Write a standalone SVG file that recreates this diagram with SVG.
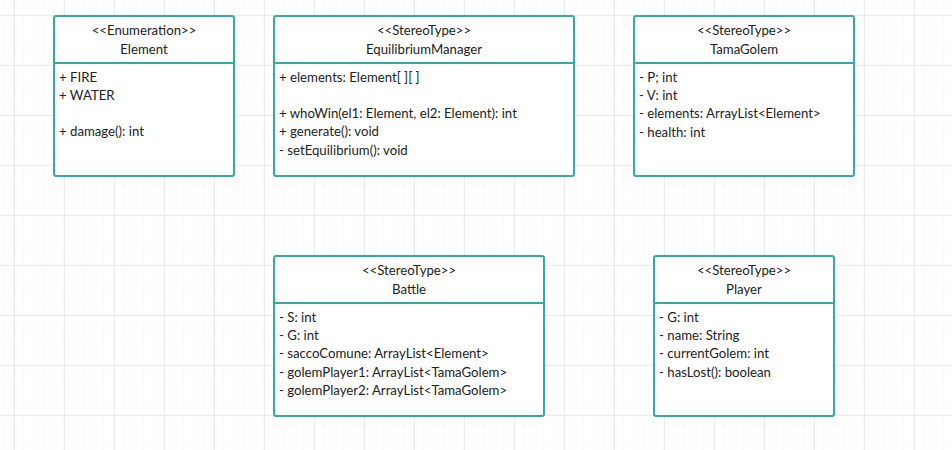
<svg xmlns="http://www.w3.org/2000/svg" width="952" height="450" viewBox="0 0 952 450">
<defs>
<pattern id="minor" x="4" y="5" width="10" height="10" patternUnits="userSpaceOnUse">
<path d="M10 0V10M0 10H10" fill="none" stroke="#f5f5f5" stroke-width="1"/>
</pattern>
<pattern id="major" x="14" y="15" width="50" height="50" patternUnits="userSpaceOnUse">
<path d="M0.5 0V50M0 0.5H50" fill="none" stroke="#ebebeb" stroke-width="1"/>
</pattern>
</defs>
<style>
.box{fill:#ffffff;stroke:#36a9a4;stroke-width:2}
.sep{stroke:#36a9a4;stroke-width:2}
text{font-family:Lato,"Open Sans","Liberation Sans",sans-serif;font-size:13.2px;fill:#222222}
.c{text-anchor:middle}
</style>
<rect width="952" height="450" fill="#ffffff"/>
<rect width="952" height="450" fill="url(#minor)"/>
<rect width="952" height="450" fill="url(#major)"/>
<g id="connectors"/>
<g id="Element">
<rect class="box" x="54" y="16" width="180" height="160" rx="2"/>
<line class="sep" x1="54" y1="63" x2="234" y2="63"/>
<text class="c" x="144" y="35">&lt;&lt;Enumeration&gt;&gt;</text>
<text class="c" x="144" y="54">Element</text>
<text x="59" y="81.5">+ FIRE</text>
<text x="59" y="100">+ WATER</text>
<text x="59" y="136">+ damage(): int</text>
</g>
<g id="EquilibriumManager">
<rect class="box" x="274" y="16" width="300" height="160" rx="2"/>
<line class="sep" x1="274" y1="63" x2="574" y2="63"/>
<text class="c" x="424" y="35">&lt;&lt;StereoType&gt;&gt;</text>
<text class="c" x="424" y="54">EquilibriumManager</text>
<text x="279" y="81.5">+ elements: Element[ ][ ]</text>
<text x="279" y="118">+ whoWin(el1: Element, el2: Element): int</text>
<text x="279" y="136">+ generate(): void</text>
<text x="279" y="154.5">- setEquilibrium(): void</text>
</g>
<g id="TamaGolem">
<rect class="box" x="634" y="16" width="220" height="160" rx="2"/>
<line class="sep" x1="634" y1="63" x2="854" y2="63"/>
<text class="c" x="744" y="35">&lt;&lt;StereoType&gt;&gt;</text>
<text class="c" x="744" y="54">TamaGolem</text>
<text x="639" y="81.5">- P; int</text>
<text x="639" y="100">- V: int</text>
<text x="639" y="118">- elements: ArrayList&lt;Element&gt;</text>
<text x="639" y="136.5">- health: int</text>
</g>
<g id="Battle">
<rect class="box" x="274" y="256" width="270" height="160" rx="2"/>
<line class="sep" x1="274" y1="303" x2="544" y2="303"/>
<text class="c" x="409" y="275">&lt;&lt;StereoType&gt;&gt;</text>
<text class="c" x="409" y="294">Battle</text>
<text x="279" y="321.5">- S: int</text>
<text x="279" y="340">- G: int</text>
<text x="279" y="358">- saccoComune: ArrayList&lt;Element&gt;</text>
<text x="279" y="376.5">- golemPlayer1: ArrayList&lt;TamaGolem&gt;</text>
<text x="279" y="394.5">- golemPlayer2: ArrayList&lt;TamaGolem&gt;</text>
</g>
<g id="Player">
<rect class="box" x="654" y="256" width="180" height="160" rx="2"/>
<line class="sep" x1="654" y1="303" x2="834" y2="303"/>
<text class="c" x="744" y="275">&lt;&lt;StereoType&gt;&gt;</text>
<text class="c" x="744" y="294">Player</text>
<text x="659" y="321.5">- G: int</text>
<text x="659" y="340">- name: String</text>
<text x="659" y="358">- currentGolem: int</text>
<text x="659" y="376.5">- hasLost(): boolean</text>
</g>
</svg>
